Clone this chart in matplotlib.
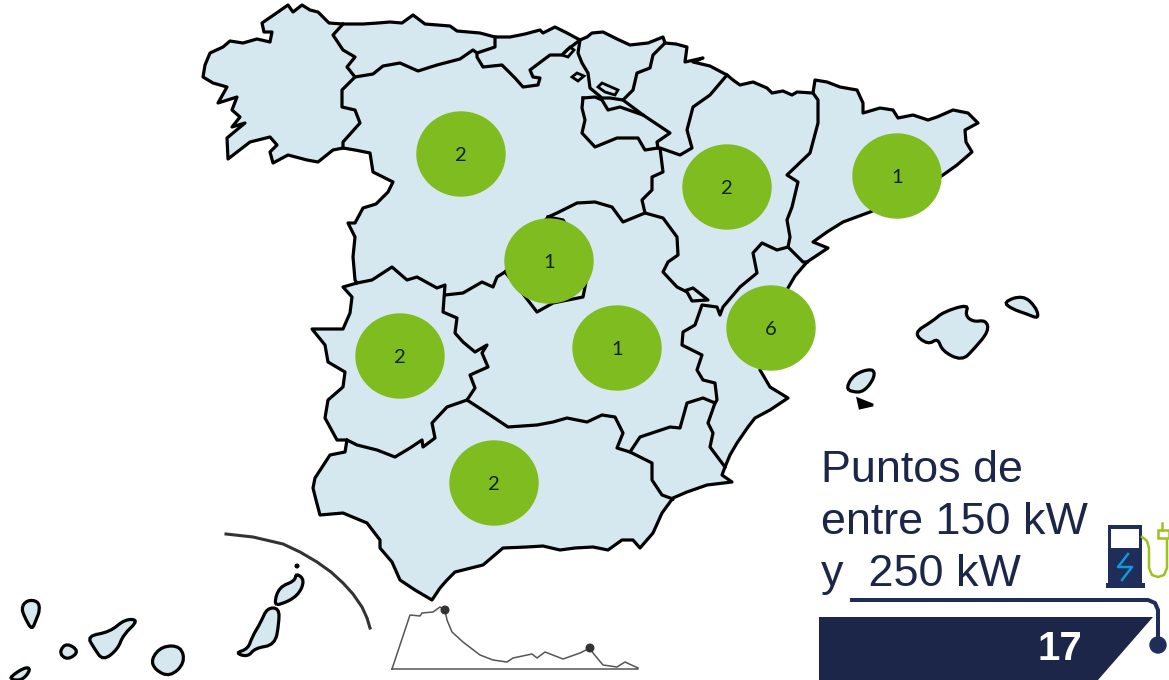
import matplotlib
matplotlib.use('Agg')
import matplotlib.pyplot as plt
from matplotlib.patches import Polygon, Ellipse, Circle, PathPatch
from matplotlib.path import Path

mainland = [(329,23),(343,24),(363,24),(378,23),(390,22),(402,23),(413,15),(425,24),(450,26),(457,31),(480,33),(495,37),(510,37),(525,34),(540,30),(543,33),(555,27),(567,33),(580,40),(587,37),(592,33),(603,32),(617,39),(630,45),(648,43),(663,37),(665,43),(676,44),(687,47),(685,62),(703,58),(693,62),(710,66),(727,75),(733,80),(740,85),(753,82),(767,88),(772,93),(783,91),(792,95),(797,92),(813,93),(815,80),(827,82),(840,87),(857,90),(863,103),(863,113),(880,108),(893,110),(898,118),(913,115),(928,120),(937,117),(953,110),(968,113),(978,123),(965,130),(966,142),(972,152),(957,165),(943,175),(905,197),(870,212),(843,222),(827,232),(813,242),(828,248),(807,262),(795,276),(788,288),(775,320),(760,370),(770,387),(788,398),(770,410),(755,418),(748,427),(737,443),(730,455),(725,467),(722,475),(732,482),(707,485),(687,492),(673,498),(662,513),(653,533),(640,548),(633,540),(622,540),(608,550),(593,547),(575,548),(560,550),(543,546),(527,547),(503,548),(483,565),(455,572),(447,580),(440,588),(432,600),(415,590),(400,580),(392,562),(380,548),(380,540),(367,523),(343,513),(320,515),(316,500),(313,488),(315,478),(330,455),(345,452),(347,440),(337,440),(325,418),(328,400),(343,387),(345,372),(328,362),(325,345),(312,329),(343,329),(350,313),(352,297),(343,287),(357,283),(355,280),(353,257),(355,237),(348,223),(355,223),(363,208),(376,204),(388,192),(393,182),(373,172),(370,153),(355,150),(343,148),(333,150),(318,162),(307,160),(288,155),(273,163),(270,152),(277,145),(270,137),(250,142),(228,159),(227,138),(245,123),(232,127),(240,117),(232,110),(237,97),(218,103),(227,87),(213,83),(203,77),(205,65),(210,53),(223,47),(230,41),(243,43),(257,39),(270,42),(272,32),(264,32),(262,23),(278,12),(288,5),(293,12),(302,5),(310,10),(318,12)]

borders = [
    [(343,24),(333,35),(343,50),(355,57),(347,67),(355,77),(342,90),(342,107),(355,110),(360,123),(343,142),(343,148)],
    [(355,77),(373,74),(383,66),(400,63),(418,71),(437,65),(460,59),(473,50),(477,53),(495,47),(495,37)],
    [(477,53),(477,57),(483,67),(502,65),(515,78),(523,87),(538,85),(540,78),(533,77),(530,70),(550,55),(562,55),(567,50),(580,40)],
    [(580,40),(578,53),(582,63),(588,73),(590,88),(602,98),(610,98),(623,100)],
    [(665,43),(653,55),(650,68),(637,73),(633,90),(623,100),(643,115),(670,133),(657,142),(658,148)],
    [(583,98),(595,97),(602,100),(608,110),(620,107),(643,115)],
    [(583,98),(582,108),(585,120),(582,133),(595,147),(617,138),(638,138),(645,150),(658,148)],
    [(727,75),(710,95),(693,107),(687,130),(692,148),(680,155),(660,148),(663,172),(652,177),(652,190),(642,200),(645,213),(663,218),(677,237),(678,255),(668,262),(663,272),(677,287),(687,292),(692,301),(708,300),(693,288),(687,290)],
    [(813,93),(818,100),(818,123),(810,153),(787,175),(798,182),(792,207),(787,220),(790,237),(788,247),(803,262),(807,262)],
    [(788,247),(777,250),(762,243),(753,253),(757,273),(740,287),(723,307),(720,315),(717,307),(702,305),(695,325),(683,332),(682,345),(702,355),(697,370),(703,380),(715,383),(717,400),(715,403),(708,423),(713,433),(710,447),(725,467)],
    [(645,213),(623,222),(612,207),(595,202),(577,203),(557,213),(548,217),(530,240),(505,272),(497,277),(493,287),(482,282),(463,293),(445,295)],
    [(548,217),(563,220),(590,260),(585,287),(583,297),(553,303),(537,312),(520,290),(505,272)],
    [(357,283),(372,280),(392,267),(407,280),(417,277),(437,288),(445,285),(443,312),(457,318),(455,333),(463,342),(475,352),(487,345),(482,353),(488,367),(470,375),(475,388),(467,400)],
    [(347,440),(357,445),(377,450),(395,457),(410,448),(422,440),(423,447),(435,438),(432,423),(447,407),(467,400),(487,413),(508,427),(537,425),(553,422),(567,418),(587,422),(602,415),(615,417),(623,433),(617,448),(630,452),(652,463),(652,480),(662,495),(673,499)],
    [(630,452),(640,437),(670,427),(680,428),(687,403),(703,398),(715,403)],
]

# small rings inside the map
rings = [
    [(598,87),(602,83),(618,90),(615,95),(605,92)],
    [(572,77),(577,73),(584,76),(578,81)],
    [(562,55),(570,47),(574,50),(568,57)],
]

islands = [
    [(21,608),(27,600),(38,601),(40,610),(36,620),(32,630),(26,620)],
    [(60,650),(67,643),(79,651),(70,659),(62,657)],
    [(87,636),(110,632),(125,619),(139,620),(123,635),(118,649),(103,661),(94,648)],
    [(162,646),(181,646),(185,663),(170,677),(155,670),(151,659)],
    [(267,608),(279,608),(279,623),(275,645),(255,648),(248,657),(235,653),(248,649),(252,637),(261,622)],
    [(274,604),(279,587),(295,581),(296,573),(305,580),(298,596),(280,605)],
    [(10,677),(25,667),(31,669),(23,680),(12,680)],
    [(913,333),(933,321),(943,312),(969,304),(965,315),(973,322),(986,320),(989,331),(974,349),(962,361),(942,351),(938,338),(928,345)],
    [(1003,302),(1023,295),(1036,307),(1039,319),(1027,314),(1012,309)],
    [(846,388),(854,374),(873,368),(875,377),(864,392),(852,392)],
]
formentera = [(858,399),(863,401),(873,405),(860,408)]

inset_arc = [(226,534),(253,537),(283,544),(300,552),(317,562),(331,572),(343,583),(353,594),(362,607),(367,618),(370,628)]
strait = [(392,669),(410,615),(420,616),(422,613),(433,612),(440,607),(445,610),(447,620),(452,632),(463,642),(480,655),(493,660),(507,662),(513,658),(532,654),(537,658),(545,652),(563,659),(580,653),(590,648),(593,653),(603,665),(617,667),(625,662),(638,668),(638,669),(392,669)]
strait_dots = [(445,610),(590,648)]

bubble_x = [461,727,897,549,617,771,400,494]
bubble_y = [154,187,176,261,348,328,356,483]
bubble_counts = [2,2,1,1,1,6,2,2]

title_lines = ['Puntos de', 'entre 150 kW', 'y  250 kW']
title_baselines = [482,534,586]
total_points = '17'

land = '#d6e8ef'
green = '#7fbc20'
navy = '#1b2648'


def rounded(points):
    # closed outline, corners rounded with quadratic curves through the midpoints
    n = len(points)
    mid = lambda a, b: ((a[0] + b[0]) / 2, (a[1] + b[1]) / 2)
    verts = [mid(points[-1], points[0])]
    codes = [Path.MOVETO]
    for i in range(n):
        verts += [points[i], mid(points[i], points[(i + 1) % n])]
        codes += [Path.CURVE3, Path.CURVE3]
    return Path(verts, codes)


fig = plt.figure(figsize=(11.69, 6.8), dpi=100)
ax = fig.add_axes([0, 0, 1, 1])
ax.set_xlim(0, 1169)
ax.set_ylim(680, 0)
ax.axis('off')

ax.add_patch(Polygon(mainland, closed=True, fc=land, ec='black', lw=2.3, joinstyle='round'))
for line in borders:
    xs, ys = zip(*line)
    ax.plot(xs, ys, color='black', lw=2.3, solid_joinstyle='round')
for ring in rings:
    ax.add_patch(Polygon(ring, closed=True, fc=land, ec='black', lw=2.0))
for isl in islands:
    ax.add_patch(PathPatch(rounded(isl), fc=land, ec='black', lw=2.3))
ax.add_patch(Polygon(formentera, closed=True, fc='black', ec='black', lw=2.0))
ax.add_patch(Circle((297,566), 1.8, color='black'))

xs, ys = zip(*inset_arc)
ax.plot(xs, ys, color='#333333', lw=2.2)
xs, ys = zip(*strait)
ax.plot(xs, ys, color='#555555', lw=1.1)
for p in strait_dots:
    ax.add_patch(Circle(p, 3.8, color='#333333', zorder=3))

for x, y, n in zip(bubble_x, bubble_y, bubble_counts):
    ax.add_patch(Ellipse((x, y), 88, 84, color=green, zorder=4))
    ax.text(x, y + 1.5, str(n), ha='center', va='center', family='Lato', fontsize=14.5, color='#10240a', zorder=5)

for line, base in zip(title_lines, title_baselines):
    ax.text(821, base, line, ha='left', va='baseline', family='Liberation Sans', fontsize=32.3, color=navy)

ax.add_patch(Polygon([(819,617),(1153,617),(1098,680),(819,680)], closed=True, fc=navy, ec='none'))
ax.text(1060, 660, total_points, ha='center', va='baseline', family='Liberation Sans', weight='bold', fontsize=29, color='white')

# cable and plug under the title
ax.plot([850,1148,1155,1158,1158], [600,600,603,610,640], color='#1f2d5a', lw=2.9, solid_capstyle='butt')
ax.add_patch(Circle((1158,645), 8, color='#1f2d5a'))

# charging station icon
ax.add_patch(Polygon([(1108,525),(1142,525),(1142,583),(1108,583)], closed=True, fc='#1f2d5a', ec='none'))
ax.add_patch(Polygon([(1106,583),(1145,583),(1145,588),(1106,588)], closed=True, fc='#1f2d5a', ec='none'))
ax.add_patch(Polygon([(1111,529),(1139,529),(1139,548),(1111,548)], closed=True, fc='white', ec='none'))
ax.plot([1128,1118,1132,1122], [554,567,567,580], color='#0f9ad6', lw=1.8)
ax.plot([1142,1147,1149,1149,1152,1158,1164,1167,1167], [537,541,548,568,575,577,575,568,540], color='#9bc31c', lw=1.8)
ax.add_patch(Polygon([(1158,530),(1169,530),(1169,538),(1158,538)], closed=True, fc='white', ec='#9bc31c', lw=1.8))
ax.plot([1162,1162], [523,530], color='#9bc31c', lw=1.8)

fig.savefig('out.png', dpi=100)
